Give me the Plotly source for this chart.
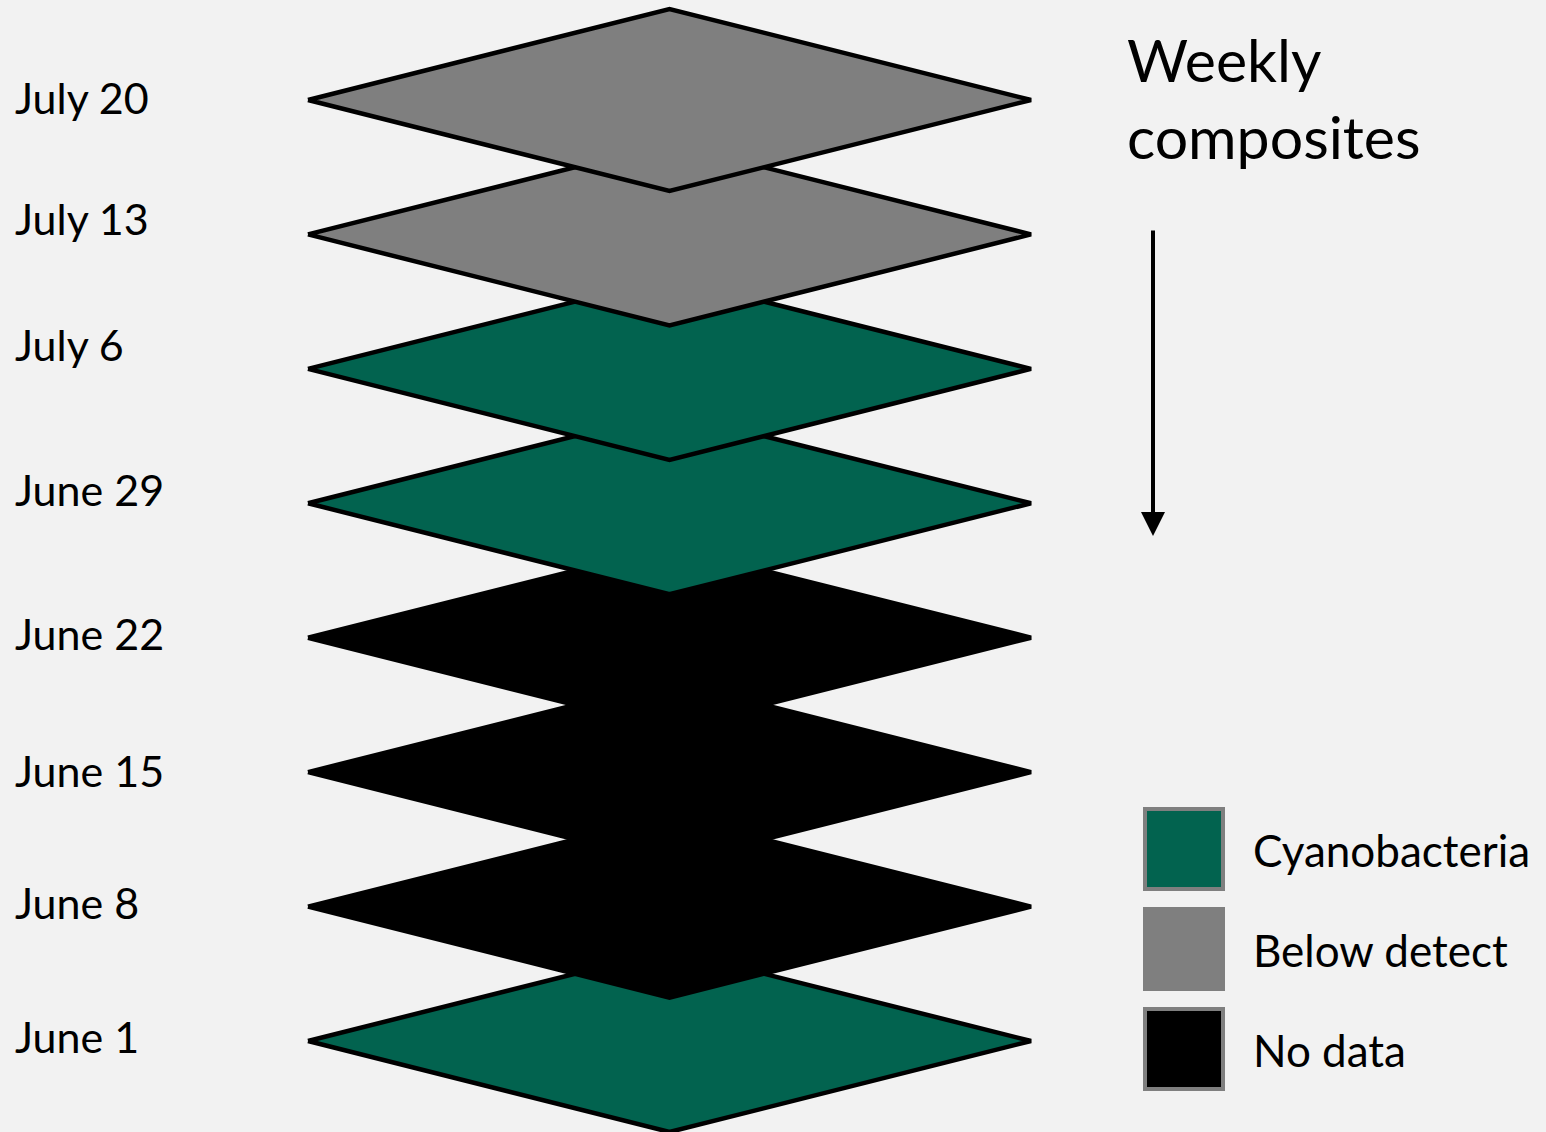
import plotly.graph_objects as go

# weekly composites, bottom (oldest) to top (newest)
weeks = ["June 1", "June 8", "June 15", "June 22", "June 29", "July 6", "July 13", "July 20"]
status = ["Cyanobacteria", "No data", "No data", "No data",
          "Cyanobacteria", "Cyanobacteria", "Below detect", "Below detect"]
# vertical offset of each date label from its layer centre (in layer units)
label_shift = [0.03, 0.03, 0.01, 0.03, 0.10, 0.18, 0.12, 0.02]

legend_items = ["Cyanobacteria", "Below detect", "No data"]
colors = {"Cyanobacteria": "#02634f", "Below detect": "#7f7f7f", "No data": "#000000"}

W, H = 1546, 1132
step = 134.43          # pixels between layers
base = 1041            # pixel row of the bottom layer centre
half_h = 91 / step     # diamond half height in layer units
cx, half_w = 669.5, 361.5
font = "Lato, Open Sans, sans-serif"

fig = go.Figure()

for i, (wk, st) in enumerate(zip(weeks, status)):
    fig.add_trace(go.Scatter(
        x=[cx - half_w, cx, cx + half_w, cx, cx - half_w],
        y=[i, i + half_h, i, i - half_h, i],
        mode="lines",
        fill="toself",
        fillcolor=colors[st],
        line=dict(color="black", width=4.5),
        hoverinfo="skip",
        showlegend=False
    ))
    fig.add_annotation(
        x=13, y=i + label_shift[i], text=wk, showarrow=False,
        xanchor="left", yanchor="middle",
        font=dict(family=font, size=43, color="black")
    )

fig.add_annotation(
    x=1125, y=(base - 98) / step, text="Weekly<br>composites", showarrow=False,
    xanchor="left", yanchor="middle", align="left",
    font=dict(family=font, size=59, color="black")
)

# downward arrow
fig.add_annotation(
    x=1153, y=(base - 536) / step, ax=1153, ay=(base - 229) / step,
    xref="x", yref="y", axref="x", ayref="y",
    text="", showarrow=True, arrowhead=2, arrowsize=1.2, arrowwidth=4,
    arrowcolor="black"
)

# legend boxes
for k, name in enumerate(legend_items):
    top = 809 + k * 100
    y0 = (base - top) / step
    y1 = (base - top - 80) / step
    fig.add_shape(
        type="rect", x0=1145, x1=1223, y0=y1, y1=y0,
        fillcolor=colors[name], line=dict(color="#7f7f7f", width=4)
    )
    fig.add_annotation(
        x=1251, y=(base - top - 41) / step, text=name, showarrow=False,
        xanchor="left", yanchor="middle",
        font=dict(family=font, size=44, color="black")
    )

fig.update_layout(
    width=W,
    height=H,
    margin=dict(l=0, r=0, t=0, b=0),
    paper_bgcolor="#f2f2f2",
    plot_bgcolor="#f2f2f2",
    xaxis=dict(range=[0, W], visible=False, fixedrange=True),
    yaxis=dict(range=[(base - H) / step, base / step], visible=False, fixedrange=True),
)

fig.write_html(
    "out.html",
    config={"displayModeBar": False},
    post_script="document.body.style.margin='0';"
)
